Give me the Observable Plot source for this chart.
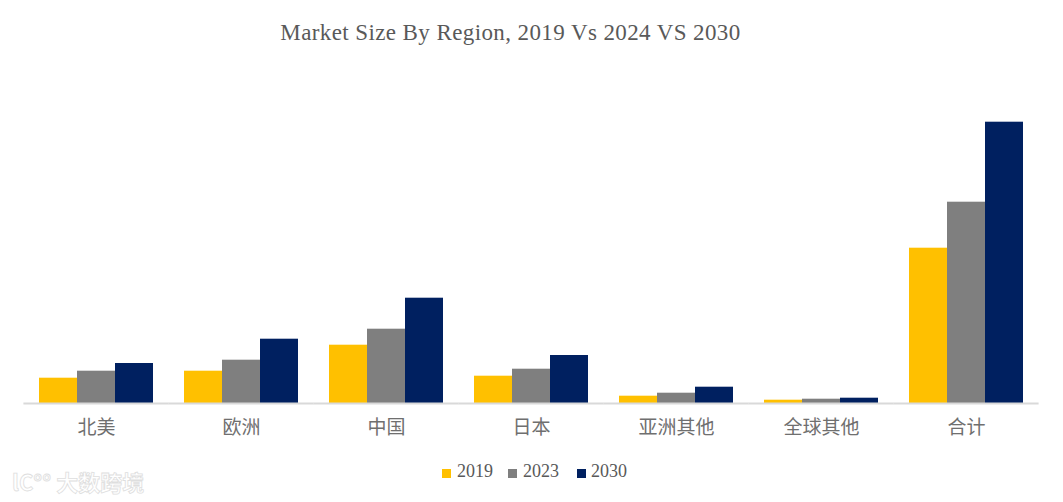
<!DOCTYPE html>
<html>
<head>
<meta charset="utf-8">
<script src="https://cdn.jsdelivr.net/npm/d3@7"></script>
<script src="https://cdn.jsdelivr.net/npm/@observablehq/plot@0.6"></script>
<style>
  html, body { margin: 0; padding: 0; background: #fff; overflow: hidden; }
  #wrap { position: relative; width: 1063px; height: 502px; }
  #chart { position: absolute; left: 0; top: 0; z-index: 1; }
  #title { position: absolute; left: -21px; top: 21px; width: 1063px; text-align: center; z-index: 2;
    font-family: "Liberation Serif", serif; font-size: 23px; line-height: 23px; letter-spacing: 0.4px; color: #595959; }
  #legend { position: absolute; left: 0; top: 462px; width: 1063px; z-index: 2;
    font-family: "Liberation Serif", serif; font-size: 18px; line-height: 18px; color: #595959; }
  .item { position: absolute; top: 0; white-space: nowrap; }
  .sw { position: absolute; top: 7px; width: 9px; height: 9px; }
  #wm { position: absolute; left: 12px; top: 469px; z-index: 2; font-family: "Noto Sans CJK SC", sans-serif;
    font-weight: 700; font-size: 22px; line-height: 24px; color: #fff; -webkit-text-stroke: 0.8px #dedede; }
</style>
</head>
<body>
<div id="wrap">
  <div id="chart"></div>
  <div id="title"></div>
  <div id="legend"></div>
  <div id="wm"></div>
</div>
<script>
const titleText = "Market Size By Region, 2019 Vs 2024 VS 2030";
const regions = ["北美", "欧洲", "中国", "日本", "亚洲其他", "全球其他", "合计"];
const years = ["2019", "2023", "2030"];
const v2019 = [25.3, 32.3, 58.3, 27.3, 7.3, 3.3, 155.3];
const v2023 = [32.3, 43.3, 74.3, 34.3, 10.3, 4.3, 201.3];
const v2030 = [40.0, 64.3, 105.3, 48.0, 16.3, 5.3, 281.3];
const colors = ["#FFC000", "#7F7F7F", "#002060"];
const watermark = "lC°° 大数跨境";

const series = [v2019, v2023, v2030];
const rows = regions.flatMap((r, i) => years.map((y, j) => ({region: r, year: y, value: series[j][i]})));

const plot = Plot.plot({
  width: 1063,
  height: 450,
  marginLeft: 22,
  marginRight: 24,
  marginTop: 103,
  marginBottom: 47,
  style: {fontFamily: "'Noto Sans CJK SC', sans-serif", fontSize: "19px", color: "#6f6f6f", background: "transparent"},
  facet: {data: rows, x: "region"},
  fx: {domain: regions, paddingInner: 0.2, paddingOuter: 0.1, axis: "bottom", tickSize: 0, tickPadding: 17, label: null},
  x: {domain: years, padding: 0, axis: null},
  y: {domain: [0, 300], axis: null},
  color: {domain: years, range: colors},
  marks: [
    Plot.barY(rows, {x: "year", y: "value", fill: "year"}),
    Plot.ruleY([0], {stroke: "#d9d9d9", strokeWidth: 2, insetLeft: -14.6, insetRight: -14.6})
  ]
});
document.getElementById("chart").appendChild(plot);
document.getElementById("title").textContent = titleText;

const legend = document.getElementById("legend");
const swX = [442, 508, 577];
const txX = [457, 523, 591];
years.forEach((y, i) => {
  const sw = document.createElement("div");
  sw.className = "sw";
  sw.style.left = swX[i] + "px";
  sw.style.background = colors[i];
  legend.appendChild(sw);
  const t = document.createElement("div");
  t.className = "item";
  t.style.left = txX[i] + "px";
  t.textContent = y;
  legend.appendChild(t);
});
document.getElementById("wm").textContent = watermark;
</script>
</body>
</html>
